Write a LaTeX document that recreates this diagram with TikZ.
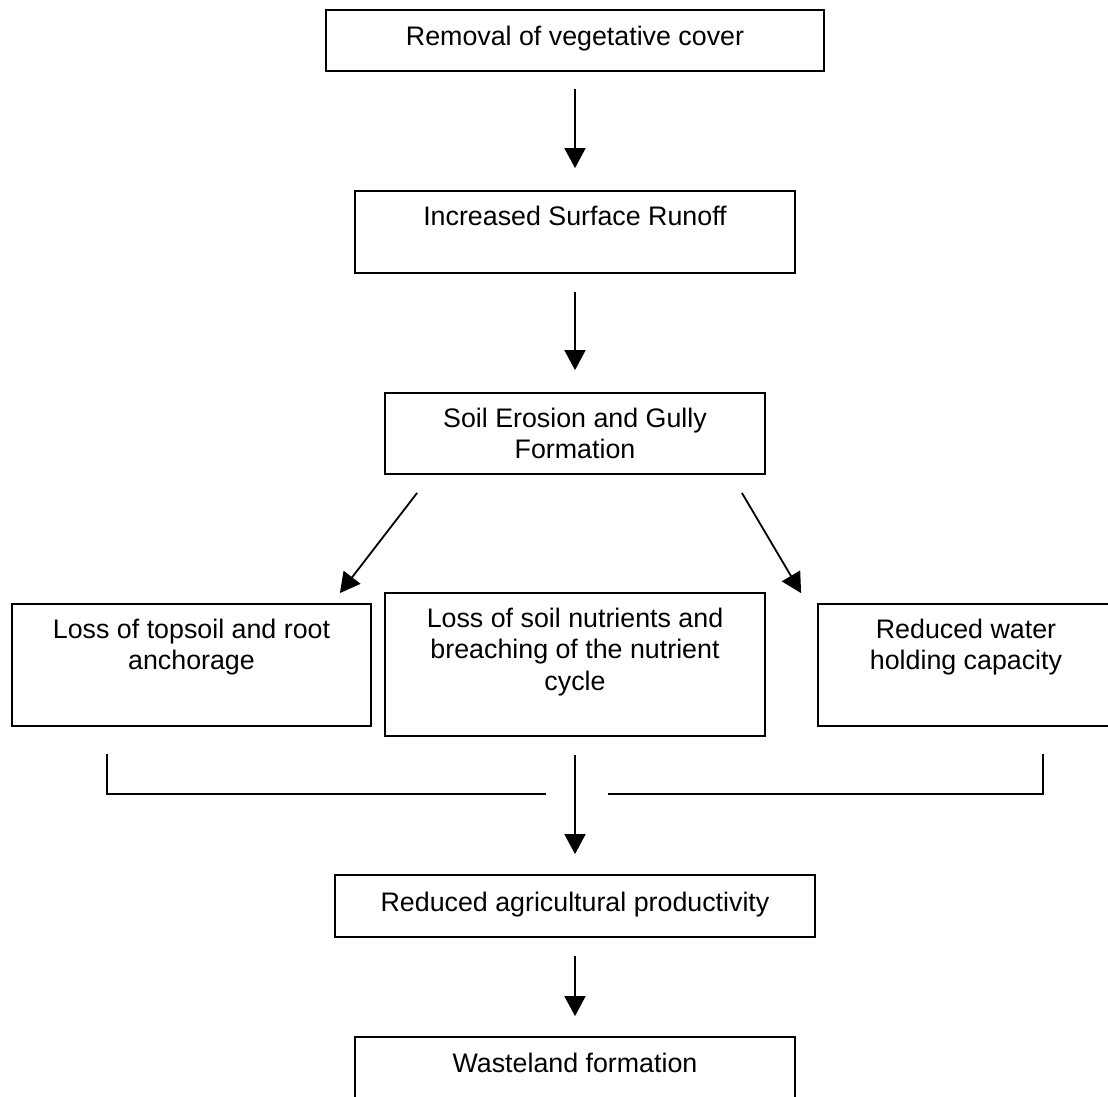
\documentclass[tikz,border=0pt]{standalone}
\usepackage{fontspec}
\setmainfont{Liberation Sans}
\usetikzlibrary{arrows.meta}
\tikzset{
  boxnode/.style={draw, line width=1.8pt, inner sep=0pt, rectangle},
  txt/.style={align=center, anchor=north, inner sep=0pt, font=\fontsize{26.8}{31.5}\selectfont},
  arr/.style={line width=1.8pt, -{Triangle[width=21pt,length=20pt]}},
  plain/.style={line width=1.8pt}
}
\begin{document}
\begin{tikzpicture}[x=1pt,y=-1pt]
\useasboundingbox (0,0) rectangle (1108,1096);
\clip (0,0) rectangle (1108,1096);
\fill[white] (0,0) rectangle (1108,1096);
% boxes
\node[boxnode, minimum width=498pt, minimum height=61pt] (b1) at (575,40.5) {};
\node[boxnode, minimum width=440pt, minimum height=82pt] (b2) at (575,232) {};
\node[boxnode, minimum width=380pt, minimum height=81pt] (b3) at (575,433.5) {};
\node[boxnode, minimum width=359pt, minimum height=122pt] (bL) at (191.5,665) {};
\node[boxnode, minimum width=380pt, minimum height=143pt] (bM) at (575,664.5) {};
\node[boxnode, minimum width=296pt, minimum height=122pt] (bR) at (966,665) {};
\node[boxnode, minimum width=480pt, minimum height=62pt] (b6) at (575,906) {};
\node[boxnode, minimum width=440pt, minimum height=82pt] (b7) at (575,1078) {};
% texts
\node[txt] (t1) at (575,23) {\strut Removal of vegetative cover};
\node[txt] (t2) at (575,203) {\strut Increased Surface Runoff};
\node[txt] (t3) at (575,405) {\strut Soil Erosion and Gully\\Formation};
\node[txt] (tL) at (191.5,616) {\strut Loss of topsoil and root\\anchorage};
\node[txt] (tM) at (575,605) {\strut Loss of soil nutrients and\\breaching of the nutrient\\cycle};
\node[txt] (tR) at (966,616) {\strut Reduced water\\holding capacity};
\node[txt] (t6) at (575,889) {\strut Reduced agricultural productivity};
\node[txt] (t7) at (575,1050) {\strut Wasteland formation};
% arrows
\draw[arr] ([yshift=-17pt]b1.south) -- ([yshift=22pt]b2.north);
\draw[arr] ([yshift=-18pt]b2.south) -- ([yshift=22pt]b3.north);
\draw[arr] ([shift={(33pt,-18pt)}]b3.south west) -- ([shift={(-32pt,10pt)}]bL.north east);
\draw[arr] ([shift={(-24pt,-18pt)}]b3.south east) -- ([shift={(-16pt,10pt)}]bR.north west);
% bracket
\coordinate (jl) at (107,754);
\coordinate (jlc) at (107,794);
\coordinate (jle) at (546,794);
\coordinate (jrs) at (608,794);
\coordinate (jrc) at (1043,794);
\coordinate (jr) at (1043,754);
\draw[plain] (jl) -- (jlc) -- (jle);
\draw[plain] (jrs) -- (jrc) -- (jr);
\draw[arr] ([yshift=-18pt]bM.south) -- ([yshift=20pt]b6.north);
\draw[arr] ([yshift=-18pt]b6.south) -- ([yshift=20pt]b7.north);
\end{tikzpicture}
\end{document}
